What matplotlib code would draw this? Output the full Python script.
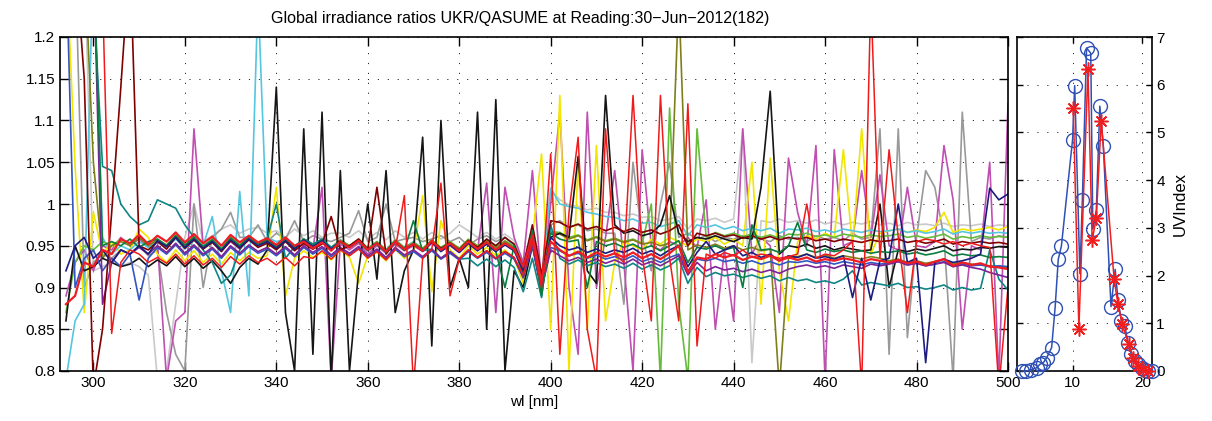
import numpy as np
import matplotlib
matplotlib.use('Agg')
import matplotlib.pyplot as plt

plt.rcParams['font.family'] = ['Liberation Sans', 'DejaVu Sans']

# wavelength grid [nm]
wl = np.arange(294, 501, 2)

# irradiance ratios UKR/QASUME, in thousandths
redthick = [880, 890, 930, 925, 945, 940, 958, 953, 963, 952,
            962, 955, 966, 954, 964, 953, 961, 950, 963, 954,
            962, 954, 959, 951, 960, 950, 955, 947, 954, 944,
            955, 948, 956, 945, 953, 943, 955, 946, 952, 944,
            956, 945, 953, 944, 955, 946, 954, 945, 953, 946,
            925, 962, 908, 955, 945, 938, 943, 936, 942, 937,
            941, 936, 942, 935, 940, 934, 941, 950, 918, 936,
            934, 940, 936, 939, 933, 937, 934, 938, 932, 936,
            933, 936, 931, 934, 932, 935, 933, 930, 934, 932,
            930, 933, 929, 931, 927, 931, 934, 926, 930, 927,
            929, 925, 924, 922]
red2 = [1300, 1300, 1300, 1300, 1250, 845, 930, 945, 940, 930,
        936, 929, 940, 928, 938, 927, 935, 924, 937, 928,
        938, 930, 935, 927, 936, 926, 937, 935, 944, 934,
        945, 938, 946, 935, 943, 933, 945, 1010, 780, 935,
        946, 1025, 890, 934, 945, 936, 944, 935, 943, 936,
        915, 955, 900, 1060, 820, 990, 1080, 850, 790, 1090,
        940, 930, 1130, 940, 860, 1130, 935, 860, 1120, 830,
        940, 935, 942, 938, 945, 936, 940, 938, 935, 937,
        940, 1000, 935, 940, 938, 945, 955, 780, 1250, 935,
        1065, 960, 870, 955, 958, 956, 952, 955, 950, 953,
        950, 948, 780, 900]
teal = [1300, 1300, 1300, 1250, 1045, 1040, 1000, 985, 975, 980,
        1005, 1000, 995, 975, 960, 945, 930, 905, 915, 945,
        962, 953, 958, 1000, 935, 949, 958, 952, 958, 948,
        955, 948, 956, 945, 953, 943, 955, 946, 952, 944,
        946, 935, 943, 934, 935, 926, 934, 925, 933, 924,
        895, 935, 888, 975, 935, 928, 933, 926, 930, 925,
        928, 923, 929, 922, 927, 921, 926, 935, 905, 924,
        913, 918, 914, 916, 912, 915, 911, 914, 908, 912,
        908, 910, 906, 908, 905, 910, 920, 903, 906, 904,
        902, 905, 900, 901, 898, 900, 903, 897, 900, 897,
        899, 945, 910, 897]
black = [860, 950, 920, 925, 935, 930, 925, 928, 935, 925,
         933, 926, 937, 925, 935, 923, 932, 920, 905, 924,
         935, 928, 945, 1140, 870, 800, 1090, 820, 1110, 790,
         1040, 800, 920, 1000, 910, 1040, 870, 920, 945, 1080,
         830, 1100, 900, 935, 900, 1110, 850, 1125, 800, 920,
         900, 950, 895, 960, 965, 960, 1057, 920, 905, 1130,
         975, 965, 968, 962, 965, 975, 1010, 965, 955, 960,
         958, 962, 958, 955, 960, 958, 1020, 1135, 940, 950,
         948, 952, 947, 950, 945, 948, 946, 944, 945, 1000,
         900, 945, 943, 946, 944, 947, 950, 944, 946, 945,
         948, 947, 949, 948]
yellow = [1300, 1045, 870, 990, 940, 955, 940, 945, 970, 960,
          940, 930, 945, 932, 944, 930, 940, 928, 942, 932,
          942, 935, 938, 1020, 890, 935, 944, 936, 942, 933,
          945, 936, 905, 938, 942, 932, 946, 935, 943, 1010,
          895, 980, 945, 935, 950, 940, 948, 938, 945, 935,
          905, 960, 1060, 850, 1130, 800, 1050, 850, 1070, 860,
          930, 955, 950, 945, 958, 952, 960, 955, 950, 958,
          955, 960, 952, 958, 950, 1050, 880, 1055, 920, 860,
          955, 962, 958, 965, 960, 1065, 950, 1090, 940, 965,
          968, 970, 966, 969, 967, 972, 990, 966, 970, 968,
          970, 972, 969, 973]
magenta = [890, 930, 945, 920, 950, 945, 960, 950, 958, 948,
           955, 790, 860, 870, 1090, 950, 958, 945, 955, 946,
           958, 950, 955, 946, 956, 945, 952, 946, 1020, 790,
           952, 945, 953, 940, 950, 941, 952, 944, 950, 943,
           953, 944, 950, 942, 952, 944, 1025, 870, 1020, 960,
           930, 1040, 905, 1000, 1110, 900, 820, 1110, 900, 960,
           1040, 930, 800, 1065, 950, 945, 955, 950, 960, 948,
           1005, 850, 945, 860, 1090, 940, 960, 950, 870, 1055,
           990, 950, 1070, 790, 1065, 950, 955, 1040, 960, 1035,
           950, 945, 1020, 950, 948, 955, 1070, 1005, 850, 950,
           945, 1050, 790, 1120]
gray = [1300, 1300, 900, 930, 940, 935, 945, 940, 950, 938,
        945, 870, 820, 800, 1000, 900, 960, 970, 990, 960,
        960, 975, 955, 965, 958, 980, 955, 962, 958, 955,
        960, 965, 992, 955, 960, 1000, 955, 958, 960, 955,
        958, 962, 955, 960, 950, 958, 962, 955, 960, 950,
        910, 965, 900, 975, 980, 972, 975, 968, 970, 965,
        965, 880, 1050, 960, 920, 1000, 1050, 960, 965, 958,
        962, 955, 960, 958, 962, 960, 958, 955, 962, 958,
        960, 955, 962, 958, 960, 956, 965, 958, 960, 1090,
        820, 1090, 840, 960, 1040, 1020, 960, 790, 1110, 955,
        960, 958, 962, 960]
lightgray = [1300, 1300, 1300, 920, 925, 930, 925, 930, 925, 915,
             790, 800, 880, 960, 1000, 955, 962, 970, 975, 965,
             970, 972, 965, 968, 960, 970, 962, 968, 960, 965,
             965, 960, 968, 958, 966, 957, 968, 960, 966, 958,
             966, 958, 965, 975, 968, 960, 966, 958, 964, 956,
             925, 975, 915, 1017, 1005, 999, 997, 993, 995, 990,
             990, 986, 988, 984, 985, 980, 982, 985, 970, 982,
             980, 983, 978, 982, 1090, 810, 980, 978, 982, 978,
             980, 977, 981, 976, 979, 975, 978, 976, 979, 975,
             977, 974, 978, 975, 976, 974, 977, 973, 975, 974,
             976, 973, 975, 974]
cyan = [790, 860, 880, 1300, 960, 940, 950, 945, 955, 948,
        955, 948, 958, 946, 956, 950, 985, 920, 870, 1015,
        890, 1250, 960, 955, 958, 950, 957, 950, 956, 948,
        957, 950, 958, 947, 955, 945, 957, 948, 955, 946,
        956, 947, 954, 946, 956, 948, 958, 950, 960, 950,
        925, 970, 910, 1019, 1000, 997, 995, 990, 988, 985,
        984, 980, 982, 977, 978, 973, 976, 980, 962, 975,
        972, 975, 970, 973, 968, 971, 968, 971, 965, 970,
        969, 971, 967, 969, 966, 970, 968, 966, 969, 967,
        968, 970, 966, 968, 965, 967, 970, 964, 967, 965,
        967, 965, 966, 965]
maroon = [1300, 1300, 1150, 780, 850, 990, 1140, 1300, 950, 945,
          955, 946, 960, 947, 957, 946, 954, 943, 956, 947,
          957, 948, 953, 945, 955, 944, 953, 946, 952, 985,
          945, 950, 958, 946, 1020, 940, 955, 945, 952, 944,
          955, 947, 953, 945, 956, 948, 958, 950, 960, 952,
          925, 975, 915, 980, 978, 972, 976, 970, 973, 968,
          972, 967, 971, 966, 969, 964, 968, 975, 950, 965,
          962, 965, 961, 963, 959, 962, 958, 961, 957, 960,
          958, 960, 956, 958, 955, 958, 956, 954, 957, 955,
          956, 958, 954, 956, 953, 955, 958, 952, 955, 953,
          955, 953, 954, 952]
navy = [920, 950, 960, 935, 945, 930, 945, 940, 950, 940,
        956, 949, 960, 948, 958, 947, 955, 944, 957, 948,
        958, 950, 955, 947, 956, 946, 957, 949, 956, 946,
        955, 948, 956, 945, 953, 943, 955, 946, 952, 944,
        954, 943, 951, 942, 953, 944, 952, 943, 951, 944,
        920, 960, 905, 960, 950, 945, 948, 942, 946, 941,
        945, 942, 947, 940, 944, 938, 945, 950, 925, 942,
        955, 940, 945, 950, 938, 942, 936, 940, 932, 938,
        936, 940, 935, 937, 934, 938, 888, 935, 885, 932,
        935, 1000, 930, 935, 810, 930, 934, 930, 932, 935,
        940, 1019, 1005, 1012]
darkgreen = [1300, 1300, 1300, 1300, 950, 955, 950, 958, 948, 955,
             958, 950, 962, 951, 960, 949, 957, 946, 959, 950,
             960, 952, 957, 949, 958, 948, 957, 950, 956, 946,
             954, 948, 955, 944, 952, 942, 954, 945, 980, 944,
             955, 946, 953, 944, 954, 946, 952, 943, 900, 950,
             915, 968, 890, 965, 958, 955, 957, 900, 955, 950,
             953, 948, 952, 946, 950, 944, 950, 956, 930, 948,
             946, 950, 945, 948, 900, 975, 945, 946, 942, 950,
             978, 945, 942, 946, 943, 945, 942, 944, 941, 943,
             942, 944, 940, 942, 939, 941, 944, 938, 940, 938,
             939, 936, 937, 936]
olive = [1300, 1300, 1300, 1050, 935, 950, 955, 950, 960, 950,
         957, 950, 962, 950, 960, 948, 957, 945, 960, 950,
         960, 953, 957, 949, 958, 948, 958, 952, 957, 947,
         956, 950, 957, 946, 954, 944, 956, 947, 953, 946,
         956, 947, 954, 946, 957, 949, 955, 947, 955, 948,
         920, 965, 900, 966, 964, 958, 962, 956, 960, 955,
         958, 954, 957, 952, 954, 950, 953, 1250, 945, 951,
         948, 952, 947, 950, 945, 948, 944, 946, 780, 935,
         937, 940, 936, 939, 935, 938, 936, 934, 937, 935,
         932, 934, 930, 932, 929, 931, 934, 928, 930, 928,
         927, 926, 925, 924]
lightgreen = [870, 930, 950, 945, 955, 950, 958, 952, 960, 950,
              958, 951, 963, 950, 961, 949, 958, 946, 960, 951,
              961, 953, 958, 950, 959, 949, 958, 951, 957, 948,
              957, 950, 958, 947, 955, 945, 957, 948, 954, 947,
              957, 948, 955, 947, 958, 950, 956, 948, 956, 949,
              920, 966, 902, 967, 966, 960, 963, 957, 961, 956,
              959, 955, 958, 953, 1000, 790, 1115, 880, 790, 1090,
              960, 966, 962, 965, 961, 964, 960, 963, 959, 964,
              963, 965, 961, 963, 960, 964, 962, 960, 963, 961,
              962, 964, 960, 962, 959, 961, 964, 958, 961, 959,
              962, 960, 961, 960]
purple = [1300, 1300, 1300, 1300, 880, 930, 945, 940, 948, 940,
          950, 942, 953, 941, 951, 940, 948, 937, 950, 941,
          951, 943, 948, 940, 949, 939, 950, 942, 949, 939,
          948, 941, 949, 938, 946, 936, 948, 939, 945, 937,
          946, 935, 943, 934, 945, 936, 944, 935, 943, 936,
          912, 952, 898, 945, 938, 932, 936, 930, 934, 929,
          933, 928, 934, 927, 931, 926, 932, 938, 915, 930,
          920, 925, 921, 923, 919, 922, 918, 921, 917, 922,
          925, 927, 924, 926, 923, 927, 925, 923, 928, 926,
          928, 931, 927, 929, 926, 928, 930, 925, 927, 924,
          922, 918, 915, 912]
midblue = [1300, 900, 935, 945, 920, 935, 925, 940, 885, 935,
           948, 940, 951, 939, 949, 938, 946, 935, 948, 939,
           949, 941, 946, 938, 947, 937, 948, 940, 947, 937,
           946, 939, 947, 936, 944, 934, 946, 937, 943, 935,
           944, 934, 941, 933, 943, 935, 942, 934, 941, 934,
           912, 950, 898, 948, 944, 938, 941, 935, 939, 934,
           937, 933, 938, 931, 935, 930, 936, 940, 920, 934,
           932, 935, 931, 933, 929, 932, 928, 931, 927, 931,
           930, 932, 929, 931, 928, 931, 929, 927, 930, 928,
           929, 931, 927, 929, 926, 928, 931, 925, 928, 926,
           927, 925, 926, 925]

# UV index panel
uv_x_blue = [2.7, 3.4, 4.1, 4.9, 5.3, 5.8, 6.3, 7.0, 7.5, 7.95, 8.4, 10.0, 10.3,
             11.05, 11.4, 12.0, 12.6, 12.9, 13.4, 13.9, 14.4, 15.5, 16.1, 16.5,
             17.0, 17.5, 17.95, 18.4, 18.9, 19.4, 19.9, 20.3, 20.8, 21.3]
uv_blue = [0.0, 0.0, 0.03, 0.07, 0.14, 0.17, 0.28, 0.49, 1.33, 2.34, 2.62, 4.85, 5.98,
           2.04, 3.59, 6.77, 6.66, 2.97, 3.38, 5.55, 4.72, 1.35, 2.13, 1.49,
           1.05, 0.94, 0.58, 0.35, 0.21, 0.14, 0.07, 0.03, 0.0, 0.0]
uv_x_red = [10.1, 10.9, 12.2, 12.8, 13.4, 14.1, 15.95, 16.5, 17.1, 18.05, 18.7, 19.4, 20.1, 20.8]
uv_red = [5.51, 0.89, 6.32, 2.74, 3.21, 5.25, 1.92, 1.40, 0.98, 0.56, 0.28, 0.10, 0.03, 0.0]

title = 'Global irradiance ratios UKR/QASUME at Reading:30\u2212Jun\u22122012(182)'
yticks = [0.8, 0.85, 0.9, 0.95, 1.0, 1.05, 1.1, 1.15, 1.2]
ytick_labels = ['0.8', '0.85', '0.9', '0.95', '1', '1.05', '1.1', '1.15', '1.2']

series = [
    (lightgray, '#c9c9c9', 1.2), (gray, '#999999', 1.2), (magenta, '#bf4fb0', 1.2),
    (yellow, '#f2e600', 1.2), (cyan, '#55c6df', 1.2), (lightgreen, '#66bb3a', 1.2),
    (olive, '#7f7f1a', 1.2), (black, '#151515', 1.2), (teal, '#0f8585', 1.2),
    (midblue, '#3355c0', 1.2), (purple, '#7d2396', 1.2), (maroon, '#800000', 1.2),
    (darkgreen, '#0b7d3e', 1.2), (navy, '#1c1c80', 1.2), (red2, '#f01a1a', 1.1),
    (redthick, '#ee1c24', 1.6),
]

fig = plt.figure(figsize=(12.12, 4.21), dpi=100)
W, H = 1212, 421
ax = fig.add_axes([60 / W, 50 / H, 948 / W, 334 / H])
for vals, col, lw in series:
    ax.plot(wl, np.asarray(vals) / 1000.0, color=col, lw=lw)
ax.set_xlim(292.7, 500)
ax.set_ylim(0.8, 1.2)
ax.set_xticks(range(300, 501, 20))
ax.set_yticks(yticks)
ax.set_yticklabels(ytick_labels)
ax.grid(True, color='0.15', lw=0.7, ls=(0, (1.2, 9)))
ax.tick_params(direction='in', top=True, right=True, length=6.5, width=1.0, labelsize=11)
ax.set_xlabel('wl [nm]', fontsize=11, labelpad=4)
for s in ax.spines.values():
    s.set_linewidth(1.2)

fig.text(520 / W, 1 - 18 / H, title, ha='center', va='center', fontsize=11.5)

ax2 = fig.add_axes([1016.5 / W, 50 / H, 135 / W, 334 / H])
ax2.plot(uv_x_blue, uv_blue, '-o', color='#2f50b4', mfc='none', ms=10, mew=1.0, lw=1.1,
         clip_on=False, zorder=3)
ax2.plot(uv_x_red, uv_red, '-', color='#f01e1e', marker=(8, 2, 0), ms=10, mew=1.1, lw=1.1,
         clip_on=False, zorder=4)
ax2.set_xlim(1.97, 21.3)
ax2.set_ylim(0, 7)
ax2.set_xticks([10, 20])
ax2.set_yticks(range(0, 8))
ax2.yaxis.tick_right()
ax2.yaxis.set_label_position('right')
ax2.set_ylabel('UVIndex', fontsize=12, labelpad=6)
ax2.grid(True, color='0.15', lw=0.7, ls=(0, (1.2, 9)))
ax2.tick_params(direction='in', top=True, left=True, right=True, length=4, width=1.0,
                labelsize=11, labelleft=False, labelright=True)
for s in ax2.spines.values():
    s.set_linewidth(1.2)

fig.savefig('out.png', dpi=100)
